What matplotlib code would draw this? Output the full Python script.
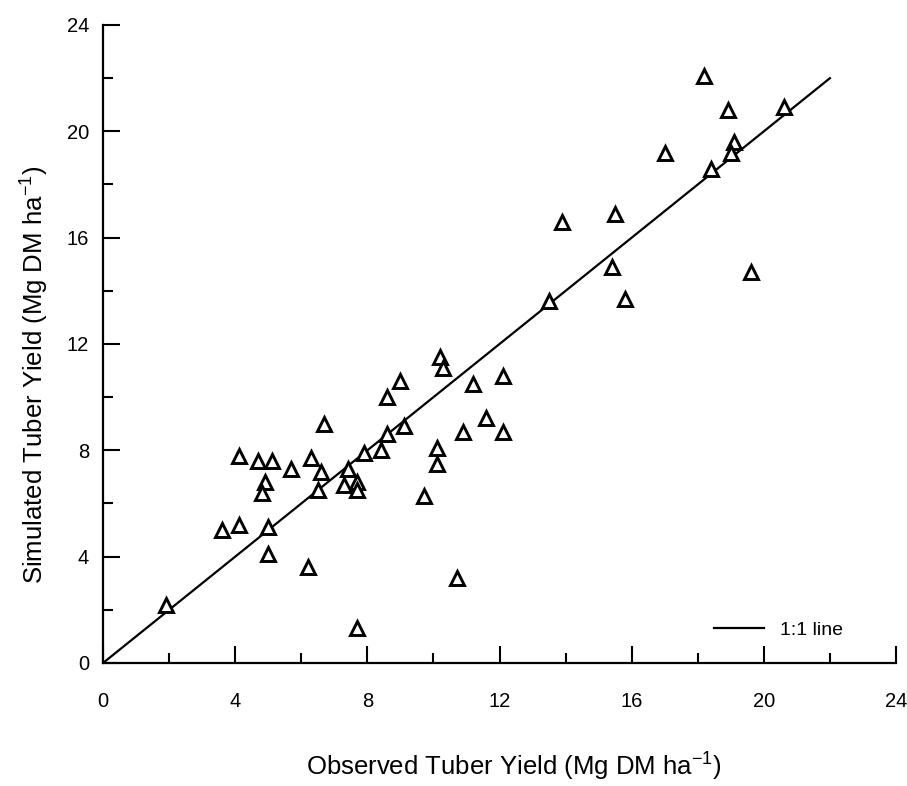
import numpy as np
import matplotlib
matplotlib.use('Agg')
import matplotlib.pyplot as plt
from matplotlib.ticker import MultipleLocator

plt.rcParams['font.family'] = ['Liberation Sans', 'DejaVu Sans']
plt.rcParams['mathtext.fontset'] = 'custom'
plt.rcParams['mathtext.rm'] = 'Liberation Sans'
plt.rcParams['mathtext.default'] = 'rm'

# observed vs simulated tuber yield (Mg DM ha-1)
observed = [9.0, 8.6, 6.7, 9.1, 8.6, 10.1, 4.1, 4.7, 5.1, 6.3,
            7.9, 8.4, 10.1, 5.7, 6.6, 7.4, 4.9, 4.8, 7.7, 7.7,
            7.3, 6.5, 9.7, 3.6, 4.1, 5.0, 5.0, 6.2, 1.9, 7.7,
            10.2, 10.3, 11.2, 12.1, 11.6, 10.9, 12.1, 10.7,
            13.9, 15.5, 15.4, 13.5, 15.8,
            18.2, 18.9, 20.6, 19.1, 19.0, 17.0, 18.4, 19.6]
simulated = [10.6, 10.0, 9.0, 8.9, 8.6, 8.1, 7.8, 7.6, 7.6, 7.7,
             7.9, 8.0, 7.5, 7.3, 7.2, 7.3, 6.8, 6.4, 6.8, 6.5,
             6.7, 6.5, 6.3, 5.0, 5.2, 5.1, 4.1, 3.6, 2.2, 1.3,
             11.5, 11.1, 10.5, 10.8, 9.2, 8.7, 8.7, 3.2,
             16.6, 16.9, 14.9, 13.6, 13.7,
             22.1, 20.8, 20.9, 19.6, 19.2, 19.2, 18.6, 14.7]
one_to_one = [0, 22]
ticks = [0, 4, 8, 12, 16, 20, 24]

fig = plt.figure(figsize=(9.07, 7.86), dpi=100)
ax = fig.add_axes([0.1136, 0.1565, 0.8743, 0.8117])

ax.plot(one_to_one, one_to_one, color='black', lw=1.6, label='1:1 line')
ax.plot(observed, simulated, linestyle='none', marker='^', ms=9.5,
        mfc='white', mec='black', mew=2.1)

ax.set_xlim(0, 24)
ax.set_ylim(0, 24)
ax.set_xticks(ticks)
ax.set_yticks(ticks)
ax.xaxis.set_minor_locator(MultipleLocator(2))
ax.yaxis.set_minor_locator(MultipleLocator(2))
ax.tick_params(which='both', direction='in', width=1.5, labelsize=14.5)
ax.tick_params(which='major', length=12)
ax.tick_params(which='minor', length=7)
ax.tick_params(axis='x', which='major', pad=21)
ax.tick_params(axis='y', which='major', pad=10)

for s in ['top', 'right']:
    ax.spines[s].set_visible(False)
for s in ['left', 'bottom']:
    ax.spines[s].set_linewidth(1.6)

ax.legend(loc='center right', bbox_to_anchor=(0.945, 0.052), frameon=False,
          fontsize=14, handlelength=2.6, handletextpad=0.8, borderpad=0)

fig.text(0.566, 0.024, 'Observed Tuber Yield (Mg DM ha$^{-1}$)',
         ha='center', va='center', fontsize=18.5)
fig.text(0.038, 0.523, 'Simulated Tuber Yield (Mg DM ha$^{-1}$)',
         ha='center', va='center', rotation=90, fontsize=18.5)

fig.savefig('out.png', dpi=100, facecolor='white')
